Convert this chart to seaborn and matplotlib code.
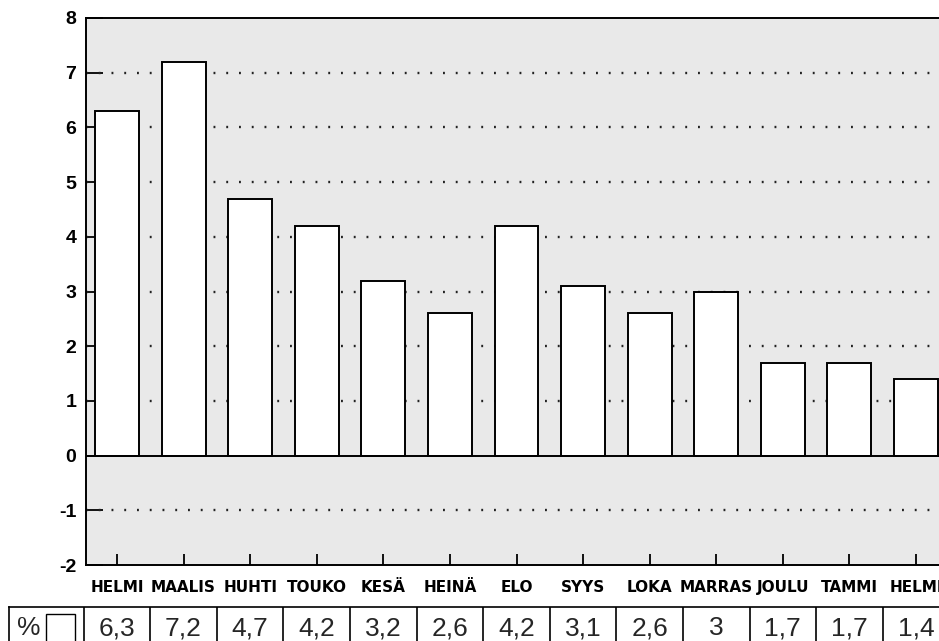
import numpy as np
import pandas as pd
import seaborn as sns
import matplotlib.pyplot as plt
from matplotlib.patches import Rectangle

# Monthly values (%)
months = ["HELMI", "MAALIS", "HUHTI", "TOUKO", "KESÄ", "HEINÄ", "ELO",
          "SYYS", "LOKA", "MARRAS", "JOULU", "TAMMI", "HELMI"]
values = [6.3, 7.2, 4.7, 4.2, 3.2, 2.6, 4.2, 3.1, 2.6, 3.0, 1.7, 1.7, 1.4]
y_ticks = [-2, -1, 0, 1, 2, 3, 4, 5, 6, 7, 8]
grid_levels = [-1, 1, 2, 3, 4, 5, 6, 7]

table_labels = [f"{v:g}".replace(".", ",") for v in values]

df = pd.DataFrame({"pos": range(len(months)), "value": values})

sns.set_style("white")
plt.rcParams["font.family"] = ["Liberation Sans", "DejaVu Sans"]

W, H = 939, 641
fig = plt.figure(figsize=(W / 100, H / 100), dpi=100)

# main axes runs past the right edge of the figure (reference is cropped)
ax = fig.add_axes([86 / W, (H - 565) / H, (948 - 86) / W, (565 - 18) / H])
ax.set_facecolor("#e9e9e9")

sns.barplot(data=df, x="pos", y="value", ax=ax, color="white",
            edgecolor="black", linewidth=1.4, width=0.66, saturation=1,
            errorbar=None, zorder=3)

for lvl in grid_levels:
    ax.axhline(lvl, color="#222222", lw=1.7, ls=(0, (0.8, 4.6)), zorder=1)
ax.axhline(0, color="black", lw=1.4, zorder=4)

ax.set_xlim(-0.465, 12.48)
ax.set_ylim(-2, 8)
ax.set_yticks(y_ticks)
ax.set_yticklabels([str(t) for t in y_ticks], fontsize=14, fontweight="bold")
ax.set_xticks(range(len(months)))
ax.set_xticklabels(months, fontsize=11, fontweight="bold",
                   family=["DejaVu Sans"])
ax.tick_params(axis="y", direction="in", length=12, width=1.3, pad=7,
               left=True, colors="black")
ax.tick_params(axis="x", direction="in", length=8, width=1.3, pad=11,
               bottom=True, colors="black")
ax.set_xlabel("")
ax.set_ylabel("")
for side in ["left", "top", "bottom"]:
    ax.spines[side].set_color("black")
    ax.spines[side].set_linewidth(1.4)
ax.spines["right"].set_visible(False)

# value table under the chart, sharing the category spacing
tab = fig.add_axes([9 / W, (H - 660) / H, (948 - 9) / W, (660 - 607) / H])
tab.set_xlim(-1.62, 12.48)
tab.set_ylim(0, 1)
tab.set_xticks([])
tab.set_yticks([])
tab.set_facecolor("white")
for side in ["left", "top", "bottom"]:
    tab.spines[side].set_color("black")
    tab.spines[side].set_linewidth(1.2)
tab.spines["right"].set_visible(False)
for k in range(len(months) + 1):
    tab.axvline(k - 0.5, color="black", lw=1.2)
for k, lab in enumerate(table_labels):
    tab.text(k, 0.47, lab, ha="center", va="baseline", fontsize=19)
tab.text(-1.32, 0.47, "%", ha="center", va="baseline", fontsize=19)
tab.add_patch(Rectangle((-1.065, -0.2), 0.435, 1.07,
                        facecolor="white", edgecolor="black", lw=1.0))

fig.savefig("out.png", dpi=100)
